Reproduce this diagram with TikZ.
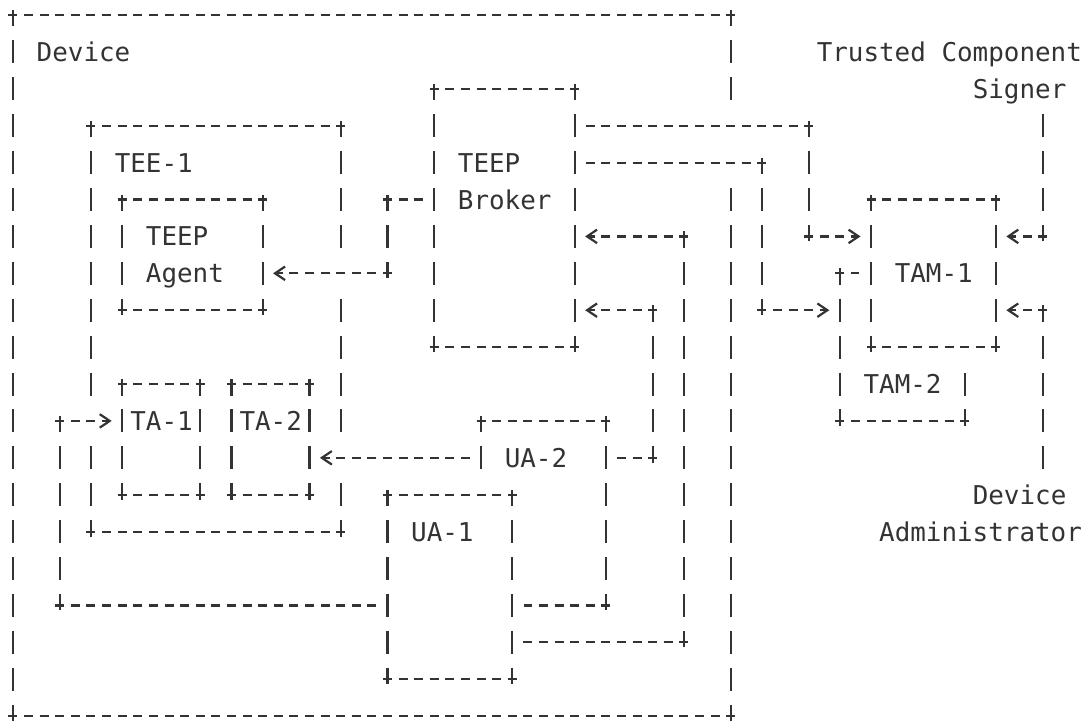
\documentclass[tikz,border=0pt]{standalone}
\usepackage{fontspec}
\setmonofont{DejaVu Sans Mono}
\usepackage{xcolor}
\usetikzlibrary{positioning, arrows.meta, fit}
\definecolor{ink}{HTML}{333333}

\begin{document}
\begin{tikzpicture}[
    x=0.312cm, y=-0.738cm,
    hedge/.style={draw=ink, line width=1.25pt, dash pattern=on 0.18cm off 0.132cm, dash phase=0cm, shorten <=-0.09cm, shorten >=-0.09cm},
    vedge/.style={draw=ink, line width=1.25pt, dash pattern=on 0.46cm off 0.278cm, dash phase=0.13cm, shorten <=-0.1cm, shorten >=-0.1cm},
    leave/.style={shorten <=0.09cm, dash phase=0.18cm},
    enter/.style={shorten >=0.21cm, -{Straight Barb[length=0.2cm, width=0.27cm]}},
    free/.style={shorten <=-0.23cm, dash phase=0cm},
    over/.style={preaction={-, draw=white, solid, line width=0.5cm, shorten <=0.3cm, shorten >=0.3cm}},
    box/.style={inner sep=0pt, outer sep=0pt, append after command={
        (\tikzlastnode.north west) edge[hedge] (\tikzlastnode.north east)
        (\tikzlastnode.south west) edge[hedge] (\tikzlastnode.south east)
        (\tikzlastnode.north west) edge[vedge] (\tikzlastnode.south west)
        (\tikzlastnode.north east) edge[vedge] (\tikzlastnode.south east)}},
    front/.style={box, fill=white, preaction={draw=white, line width=0.48cm}},
    txt/.style={font=\ttfamily\fontsize{14.74pt}{17pt}\selectfont, text=ink, anchor=base west, inner sep=0pt, yshift=-0.19cm}
]
    \useasboundingbox (-0.833,-0.4065) rectangle (68.78,19.21);

    % Boxes
    \node[box, fit={(0,0) (46,19)}] (device) {};
    \node[box, fit={(5,3) (21,14)}] (tee1) {};
    \node[box, fit={(7,5) (16,8)}] (agent) {};
    \node[box, fit={(7,10) (12,13)}] (ta1) {};
    \node[box, fit={(14,10) (19,13)}] (ta2) {};
    \node[box, fit={(27,2) (36,9)}] (broker) {};
    \node[box, fit={(30,11) (38,16)}] (ua2) {};
    \node[front, fit={(24,13) (32,18)}] (ua1) {};
    \node[box, fit={(53,7) (61,11)}] (tam2) {};
    \node[front, fit={(55,5) (63,9)}] (tam1) {};

    % Texts
    \node[txt] (devicelbl) at (1.5,1) {Device};
    \node[txt] (tee1lbl) at (6.5,4) {TEE-1};
    \node[txt] (agentlbl) at (8.5,6) {TEEP};
    \node[txt] (agentlbl2) at (8.5,7) {Agent};
    \node[txt] (ta1lbl) at (7.5,11) {TA-1};
    \node[txt] (ta2lbl) at (14.5,11) {TA-2};
    \node[txt] (brokerlbl) at (28.5,4) {TEEP};
    \node[txt] (brokerlbl2) at (28.5,5) {Broker};
    \node[txt] (ua2lbl) at (31.5,12) {UA-2};
    \node[txt] (ua1lbl) at (25.5,14) {UA-1};
    \node[txt] (tam1lbl) at (56.5,7) {TAM-1};
    \node[txt] (tam2lbl) at (54.5,10) {TAM-2};
    \node[txt] (signer) at (51.5,1) {Trusted Component};
    \node[txt] (signer2) at (61.5,2) {Signer};
    \node[txt] (admin) at (61.5,13) {Device};
    \node[txt] (admin2) at (55.5,14) {Administrator};

    \coordinate (signerpt) at (66,3);
    \coordinate (adminpt) at (66,12);

    % Connectors
    \path (broker.west |- 0,5) edge[hedge, leave] (24,5)
          (24,5) edge[vedge] (24,7)
          (24,7) edge[hedge, over, enter] (agent.east |- 0,7);

    \path (broker.east |- 0,3) edge[hedge, over, leave] (51,3)
          (51,3) edge[vedge] (51,6)
          (51,6) edge[hedge, enter] (tam1.west |- 0,6);

    \path (broker.east |- 0,4) edge[hedge, over, leave] (48,4)
          (48,4) edge[vedge] (48,8)
          (48,8) edge[hedge, enter] (tam2.west |- 0,8);

    \path (ua2.west |- 0,12) edge[hedge, over, leave, enter] (ta2.east |- 0,12);

    \path (ua2.east |- 0,12) edge[hedge, leave] (41,12)
          (41,12) edge[vedge] (41,8)
          (41,8) edge[hedge, enter] (broker.east |- 0,8);

    \path (ua1.east |- 0,17) edge[hedge, leave] (43,17)
          (43,17) edge[vedge] (43,6)
          (43,6) edge[hedge, enter] (broker.east |- 0,6);

    \path (ua1.west |- 0,16) edge[hedge, leave] (3,16)
          (3,16) edge[vedge] (3,11)
          (3,11) edge[hedge, over, enter] (ta1.west |- 0,11);

    \path (signerpt) edge[vedge, free] (66,6)
          (66,6) edge[hedge, enter] (tam1.east |- 0,6);

    \path (adminpt) edge[vedge, free] (66,8)
          (66,8) edge[hedge, enter] (tam1.east |- 0,8);

\end{tikzpicture}
\end{document}
